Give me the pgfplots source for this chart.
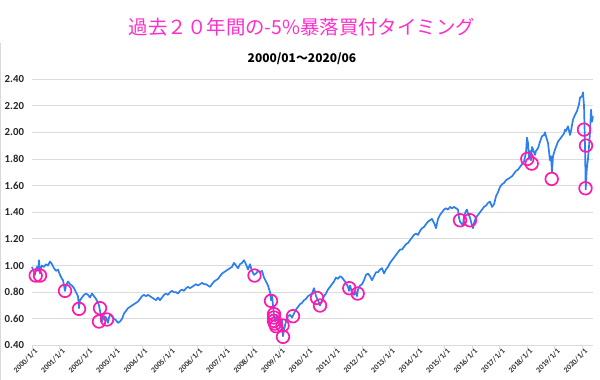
\documentclass[border=0pt]{standalone}
\usepackage{fontspec}
\setmainfont{Carlito}
\newfontfamily\jp{Noto Sans CJK JP}
\usepackage{pgfplots}
\pgfplotsset{compat=1.18}
\definecolor{lineblue}{HTML}{2D7FF0}
\definecolor{circ}{HTML}{FF1AAE}
\definecolor{ttl}{HTML}{FF2FCB}
\definecolor{gridc}{HTML}{DCDCDC}
\pgfplotstableread{
year value
2000.000 0.99
2000.036 0.97
2000.073 0.95
2000.109 0.93
2000.145 0.97
2000.182 0.99
2000.218 0.96
2000.255 1.04
2000.291 0.94
2000.327 0.98
2000.364 1.00
2000.436 0.99
2000.509 1.01
2000.582 1.00
2000.655 1.03
2000.727 1.01
2000.800 0.98
2000.873 0.96
2000.945 0.97
2001.018 0.93
2001.091 0.90
2001.127 0.89
2001.164 0.85
2001.200 0.81
2001.236 0.85
2001.309 0.88
2001.382 0.86
2001.455 0.85
2001.527 0.83
2001.600 0.80
2001.673 0.77
2001.709 0.68
2001.745 0.74
2001.818 0.76
2001.891 0.78
2001.964 0.79
2002.036 0.78
2002.109 0.76
2002.182 0.79
2002.255 0.77
2002.327 0.75
2002.400 0.72
2002.436 0.70
2002.473 0.66
2002.509 0.62
2002.545 0.58
2002.582 0.60
2002.618 0.62
2002.691 0.61
2002.727 0.59
2002.764 0.57
2002.800 0.61
2002.836 0.63
2002.909 0.62
2002.982 0.60
2003.055 0.59
2003.127 0.57
2003.200 0.58
2003.273 0.60
2003.345 0.64
2003.418 0.66
2003.491 0.68
2003.564 0.69
2003.636 0.70
2003.709 0.71
2003.782 0.72
2003.855 0.73
2003.927 0.75
2004.000 0.77
2004.073 0.78
2004.145 0.77
2004.218 0.78
2004.291 0.77
2004.364 0.76
2004.436 0.75
2004.509 0.74
2004.582 0.76
2004.655 0.74
2004.727 0.76
2004.800 0.78
2004.873 0.79
2004.945 0.78
2005.018 0.80
2005.091 0.81
2005.164 0.80
2005.236 0.80
2005.309 0.79
2005.382 0.81
2005.455 0.82
2005.527 0.81
2005.600 0.83
2005.673 0.84
2005.745 0.83
2005.818 0.84
2005.891 0.85
2005.964 0.86
2006.036 0.85
2006.109 0.86
2006.182 0.87
2006.255 0.86
2006.327 0.86
2006.400 0.85
2006.473 0.84
2006.545 0.86
2006.618 0.88
2006.691 0.89
2006.764 0.90
2006.836 0.92
2006.909 0.94
2006.982 0.95
2007.055 0.96
2007.127 0.97
2007.200 0.98
2007.273 0.99
2007.345 1.02
2007.418 1.00
2007.491 0.98
2007.564 1.01
2007.636 1.02
2007.709 1.04
2007.782 1.01
2007.855 0.97
2007.927 1.01
2008.000 0.96
2008.073 0.93
2008.145 0.94
2008.218 0.96
2008.291 0.95
2008.364 0.96
2008.436 0.91
2008.509 0.88
2008.582 0.85
2008.655 0.80
2008.691 0.74
2008.727 0.78
2008.764 0.70
2008.800 0.62
2008.836 0.58
2008.873 0.60
2008.909 0.62
2008.945 0.57
2008.982 0.60
2009.018 0.54
2009.055 0.58
2009.091 0.59
2009.127 0.47
2009.164 0.52
2009.200 0.55
2009.236 0.58
2009.309 0.62
2009.382 0.63
2009.455 0.61
2009.527 0.64
2009.600 0.67
2009.673 0.69
2009.745 0.71
2009.818 0.72
2009.891 0.74
2009.964 0.75
2010.036 0.77
2010.109 0.78
2010.182 0.79
2010.255 0.83
2010.327 0.77
2010.400 0.74
2010.473 0.70
2010.545 0.74
2010.618 0.77
2010.691 0.79
2010.764 0.82
2010.836 0.84
2010.909 0.86
2010.982 0.88
2011.055 0.91
2011.127 0.90
2011.200 0.92
2011.273 0.91
2011.345 0.89
2011.418 0.87
2011.491 0.84
2011.527 0.81
2011.564 0.85
2011.636 0.80
2011.709 0.78
2011.782 0.80
2011.818 0.77
2011.855 0.82
2011.927 0.85
2012.000 0.86
2012.073 0.89
2012.145 0.93
2012.218 0.94
2012.291 0.92
2012.364 0.89
2012.436 0.92
2012.509 0.95
2012.582 0.95
2012.655 0.97
2012.727 0.98
2012.800 0.94
2012.873 0.97
2012.945 0.99
2013.018 1.02
2013.091 1.04
2013.164 1.06
2013.236 1.08
2013.309 1.10
2013.382 1.12
2013.455 1.12
2013.527 1.14
2013.600 1.16
2013.673 1.17
2013.745 1.19
2013.818 1.21
2013.891 1.23
2013.964 1.24
2014.036 1.23
2014.109 1.26
2014.182 1.28
2014.255 1.29
2014.327 1.31
2014.400 1.33
2014.473 1.34
2014.545 1.35
2014.618 1.32
2014.691 1.28
2014.764 1.35
2014.836 1.38
2014.909 1.40
2014.982 1.42
2015.055 1.43
2015.127 1.42
2015.200 1.44
2015.273 1.43
2015.345 1.44
2015.418 1.43
2015.491 1.42
2015.527 1.36
2015.564 1.33
2015.636 1.31
2015.673 1.30
2015.709 1.37
2015.782 1.41
2015.818 1.42
2015.855 1.39
2015.927 1.36
2016.000 1.30
2016.036 1.28
2016.073 1.32
2016.145 1.36
2016.218 1.38
2016.291 1.40
2016.364 1.42
2016.436 1.44
2016.509 1.45
2016.582 1.47
2016.655 1.48
2016.727 1.44
2016.800 1.46
2016.873 1.52
2016.945 1.55
2017.018 1.59
2017.091 1.61
2017.164 1.62
2017.236 1.64
2017.309 1.65
2017.382 1.66
2017.455 1.67
2017.527 1.69
2017.600 1.71
2017.673 1.72
2017.745 1.74
2017.818 1.76
2017.891 1.78
2017.964 1.85
2018.000 1.96
2018.036 1.92
2018.073 1.80
2018.109 1.86
2018.145 1.79
2018.182 1.89
2018.255 1.85
2018.291 1.83
2018.327 1.86
2018.400 1.88
2018.473 1.93
2018.545 1.97
2018.618 1.98
2018.655 2.00
2018.691 1.97
2018.764 1.92
2018.836 1.79
2018.873 1.82
2018.909 1.70
2018.945 1.82
2019.018 1.87
2019.127 1.93
2019.200 1.95
2019.273 1.97
2019.345 1.99
2019.382 2.02
2019.418 2.01
2019.491 2.045
2019.564 1.98
2019.600 2.01
2019.673 2.095
2019.745 2.13
2019.818 2.16
2019.891 2.21
2019.927 2.26
2020.000 2.27
2020.036 2.30
2020.073 2.20
2020.109 1.90
2020.135 1.57
2020.164 1.70
2020.182 1.74
2020.218 1.80
2020.255 1.895
2020.291 2.00
2020.327 2.17
2020.364 2.08
2020.400 2.12
}\series
\pgfplotstableread{
year value
2000.135 0.925
2000.291 0.925
2001.200 0.81
2001.709 0.675
2002.473 0.68
2002.436 0.58
2002.727 0.595
2008.091 0.925
2008.691 0.735
2008.800 0.635
2008.800 0.61
2008.800 0.585
2008.836 0.565
2008.873 0.545
2009.109 0.55
2009.127 0.465
2009.491 0.62
2010.364 0.757
2010.473 0.70
2011.538 0.83
2011.844 0.79
2015.564 1.34
2015.927 1.34
2018.011 1.80
2018.171 1.765
2018.898 1.65
2020.073 2.02
2020.145 1.90
2020.127 1.58
}\buys
\begin{document}
\begin{tikzpicture}
\begin{axis}[
  at={(32bp,34.5bp)}, anchor=south west,
  scale only axis, width=561bp, height=266.5bp,
  xmin=2000, xmax=2020.4, ymin=0.4, ymax=2.4,
  clip=false,
  axis line style={draw=none},
  ymajorgrids, grid style={gridc, line width=0.8bp},
  ytick={0.4,0.6,0.8,1.0,1.2,1.4,1.6,1.8,2.0,2.2,2.4},
  xtick={2000,2001,2002,2003,2004,2005,2006,2007,2008,2009,2010,2011,2012,2013,2014,2015,2016,2017,2018,2019,2020},
  xticklabels={2000/1/1,2001/1/1,2002/1/1,2003/1/1,2004/1/1,2005/1/1,2006/1/1,2007/1/1,2008/1/1,2009/1/1,2010/1/1,2011/1/1,2012/1/1,2013/1/1,2014/1/1,2015/1/1,2016/1/1,2017/1/1,2018/1/1,2019/1/1,2020/1/1},
  xtick pos=left, ytick pos=left,
  tick align=outside, major tick length=3bp,
  xtick style={gridc, line width=0.8bp},
  ytick style={draw=none},
  /pgf/number format/assume math mode=true,
  yticklabel style={/pgf/number format/.cd, fixed, fixed zerofill, precision=2, /tikz/.cd,
     font=\bfseries\fontsize{10.8}{12}\selectfont, text=black!85, xshift=-1.5bp},
  xticklabel style={rotate=45, anchor=north east, font=\bfseries\fontsize{7.8}{8}\selectfont, text=black!80, inner sep=1bp, xshift=3bp},
]
\addplot[lineblue, line width=1.7bp, line join=round, no marks] table[x=year, y=value] {\series};
\addplot[only marks, mark=o, mark size=6.3bp, mark options={circ, line width=1.7bp}] table[x=year, y=value] {\buys};
\end{axis}
\draw[gray!30, line width=0.8bp] (0.4bp,0) -- (0.4bp,337bp);
\node[ttl, font=\jp\fontsize{19.5}{22}\selectfont] at (302bp,353bp) {過去２０年間の-5\%暴落買付タイミング};
\node[font=\jp\bfseries\fontsize{12}{14}\selectfont] at (302bp,321bp) {2000/01～2020/06};
\pgfresetboundingbox
\path[use as bounding box] (0,0) rectangle (600bp,380bp);
\end{tikzpicture}
\end{document}
